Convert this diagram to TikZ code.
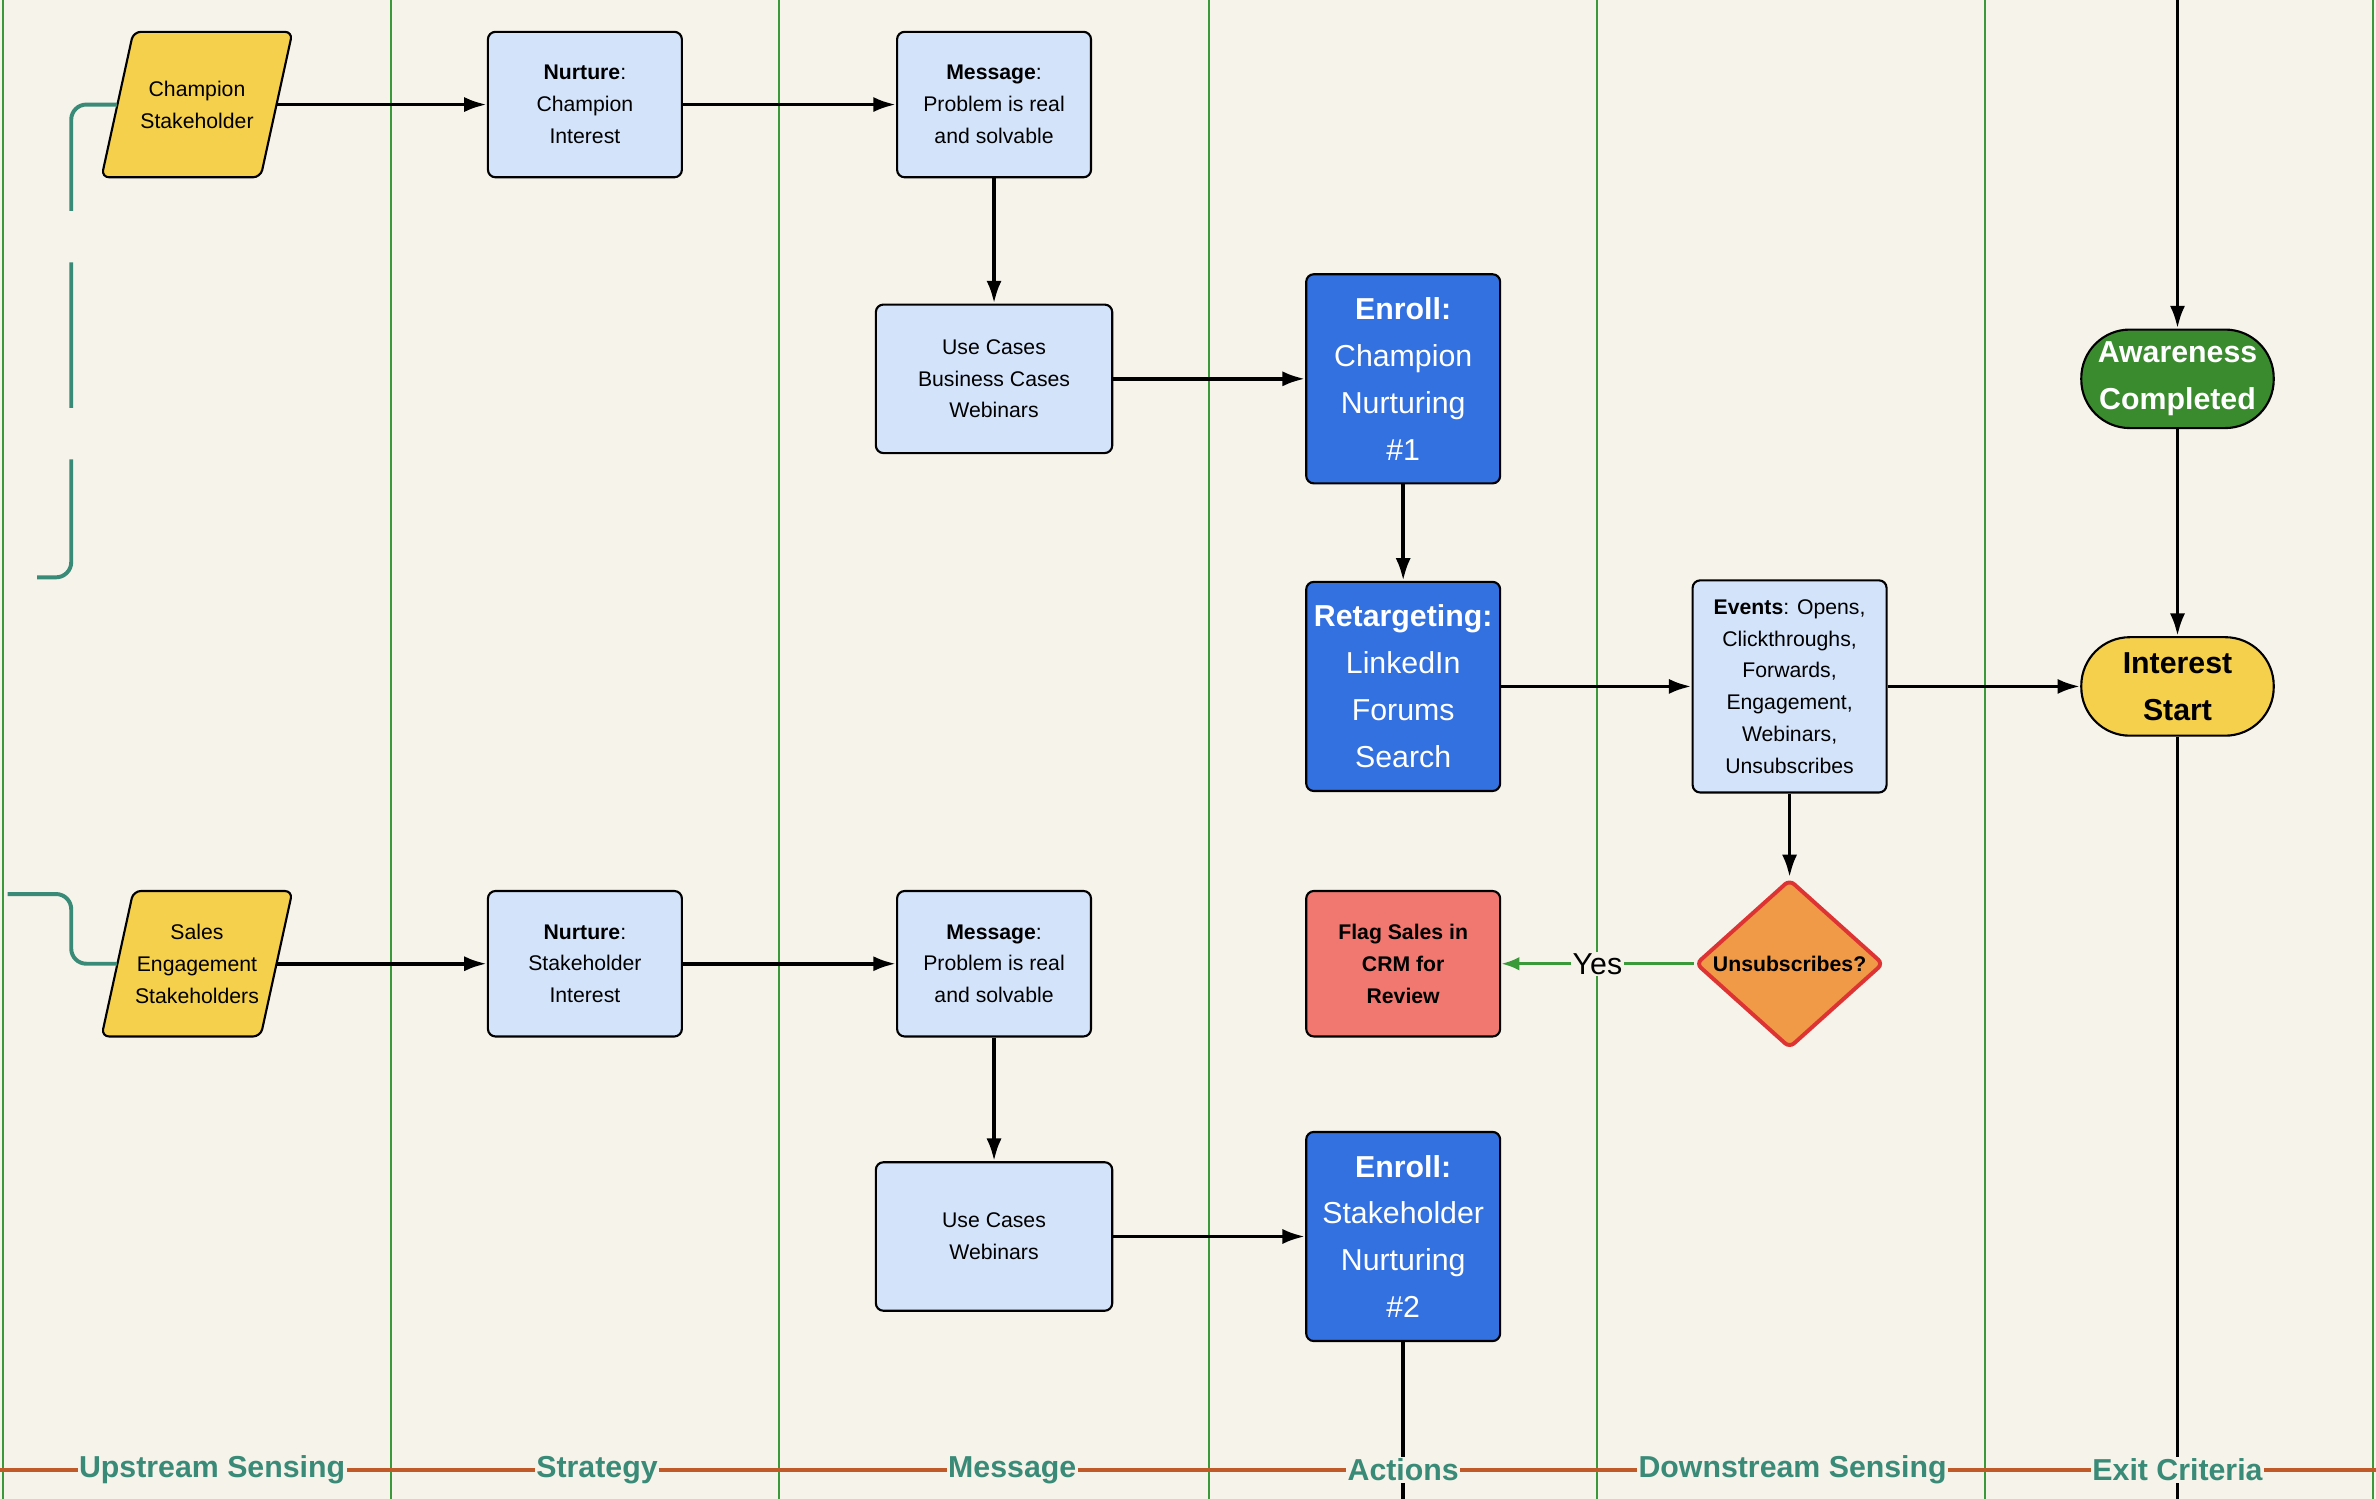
\documentclass[tikz,border=0pt]{standalone}
\usepackage{fontspec}
\setmainfont{Liberation Sans}
\usetikzlibrary{arrows.meta,shapes.geometric}
\definecolor{bg}{HTML}{F5F3EA}
\definecolor{lane}{HTML}{3A9A3A}
\definecolor{lblue}{HTML}{D3E3FA}
\definecolor{dblue}{HTML}{3370E0}
\definecolor{yel}{HTML}{F5D04C}
\definecolor{grn}{HTML}{3A8A2E}
\definecolor{red}{HTML}{F07870}
\definecolor{org}{HTML}{F09A48}
\definecolor{orgb}{HTML}{DD3333}
\definecolor{teal}{HTML}{3A8A78}
\definecolor{oline}{HTML}{C05A28}
\tikzset{
 base/.style={draw=black,line width=0.7pt,rounded corners=2.5pt,align=center,inner sep=1pt},
 lbox/.style={base,fill=lblue,minimum width=64pt,minimum height=48pt,font=\fontsize{7}{10.5}\selectfont},
 bbox/.style={base,fill=dblue,text=white,minimum width=64pt,minimum height=69pt,font=\fontsize{10}{15.5}\selectfont},
 para/.style={minimum width=52.5pt,minimum height=48pt,align=center,inner sep=0pt,font=\fontsize{7}{10.5}\selectfont},
 term/.style={draw=black,line width=0.7pt,rounded corners=16pt,minimum width=63.5pt,minimum height=32.5pt,align=center,font=\bfseries\fontsize{10}{15.5}\selectfont,inner sep=0pt},
 arr/.style={line width=1.25pt,-{Latex[length=7.5pt,width=5pt]}},
 plain/.style={line width=1.25pt},
 lanelbl/.style={fill=bg,text=teal,font=\bfseries\fontsize{10}{12}\selectfont,inner sep=0.5pt},
 tealln/.style={draw=teal,line width=1.3pt,rounded corners=5pt}
}
\begin{document}
\begin{tikzpicture}[x=0.5pt,y=-0.5pt]
\fill[bg] (0,0) rectangle (1568,989);
\useasboundingbox (0,0) rectangle (1568,989);
\foreach \x in {2,258,514,798,1054,1310,1566} \draw[lane,line width=0.5pt] (\x,0) -- (\x,989);
% parallelograms
\draw[base,fill=yel] (88,21) -- (193,21) -- (172,117) -- (67,117) -- cycle;
\draw[base,fill=yel] (88,588) -- (193,588) -- (172,684) -- (67,684) -- cycle;
\node[para] (champ) at (130,69) {Champion\\Stakeholder};
\node[para] (sales) at (130,636) {Sales\\Engagement\\Stakeholders};
% boxes
\node[lbox] (n1) at (386,69) {\textbf{Nurture}:\\Champion\\Interest};
\node[lbox] (m1) at (656,69) {\textbf{Message}:\\Problem is real\\and solvable};
\node[lbox,minimum width=78pt,minimum height=49pt] (u1) at (656,250) {Use Cases\\Business Cases\\Webinars};
\node[bbox] (e1) at (926,250) {\textbf{Enroll:}\\Champion\\Nurturing\\\#1};
\node[bbox] (rt) at (926,453) {\textbf{Retargeting:}\\LinkedIn\\Forums\\Search};
\node[lbox,minimum height=70pt] (ev) at (1181,453) {\textbf{Events}: Opens,\\Clickthroughs,\\Forwards,\\Engagement,\\Webinars,\\Unsubscribes};
\node[term,fill=yel] (is) at (1437,453) {Interest\\Start};
\node[term,fill=grn,text=white] (aw) at (1437,250) {Awareness\\Completed};
\node[lbox] (n2) at (386,636) {\textbf{Nurture}:\\Stakeholder\\Interest};
\node[lbox] (m2) at (656,636) {\textbf{Message}:\\Problem is real\\and solvable};
\node[lbox,minimum width=78pt,minimum height=49pt] (u2) at (656,816) {Use Cases\\Webinars};
\node[bbox] (e2) at (926,816) {\textbf{Enroll:}\\Stakeholder\\Nurturing\\\#2};
\node[base,fill=red,minimum width=64pt,minimum height=48pt,font=\bfseries\fontsize{7}{10.5}\selectfont] (fl) at (926,636) {Flag Sales in\\CRM for\\Review};
\node[diamond,draw=orgb,line width=1.3pt,fill=org,rounded corners=2pt,minimum width=62pt,minimum height=47pt,inner sep=0pt,font=\bfseries\fontsize{7}{9}\selectfont] (un) at (1181,636) {Unsubscribes?};
% connectors
\draw[arr] (champ.east) -- (n1.west);
\draw[arr] (n1) -- (m1);
\draw[arr] (m1) -- (u1);
\draw[arr] (u1) -- (e1);
\draw[arr] (e1) -- (rt);
\draw[arr] (rt) -- (ev);
\draw[arr] (ev) -- (is);
\draw[arr] (ev) -- (un);
\draw[arr] (aw) -- (is);
\draw[arr] (sales.east) -- (n2.west);
\draw[arr] (n2) -- (m2);
\draw[arr] (m2) -- (u2);
\draw[arr] (u2) -- (e2);
\draw[lane,line width=1pt,-{Latex[length=6pt,width=4.5pt]}] (un) -- node[fill=bg,text=black,inner sep=0.5pt,font=\fontsize{10}{12}\selectfont]{Yes} (fl);
\coordinate (top) at (1437,0);
\coordinate (bot1) at (1437,989);
\coordinate (bot2) at (926,989);
\draw[arr] (top) -- (aw);
\draw[plain] (is) -- (bot1);
\draw[plain] (e2) -- (bot2);
% teal
\coordinate (t1) at (5,381);
\coordinate (t2) at (5,590);
\draw[tealln,dash pattern=on 48pt off 17pt] (champ.west) -- (47,69) -- (47,381) -- (t1);
\draw[tealln] (t2) -- (47,590) -- (47,636) -- (sales.west);
% bottom
\coordinate (bl) at (0,970);
\coordinate (br) at (1568,970);
\draw[oline,line width=1.5pt] (bl) -- (br);
\node[lanelbl] at (140,970) {Upstream Sensing};
\node[lanelbl] at (394,970) {Strategy};
\node[lanelbl] at (668,970) {Message};
\node[lanelbl] at (926,970) {Actions};
\node[lanelbl] at (1183,970) {Downstream Sensing};
\node[lanelbl] at (1437,970) {Exit Criteria};
\end{tikzpicture}
\end{document}
